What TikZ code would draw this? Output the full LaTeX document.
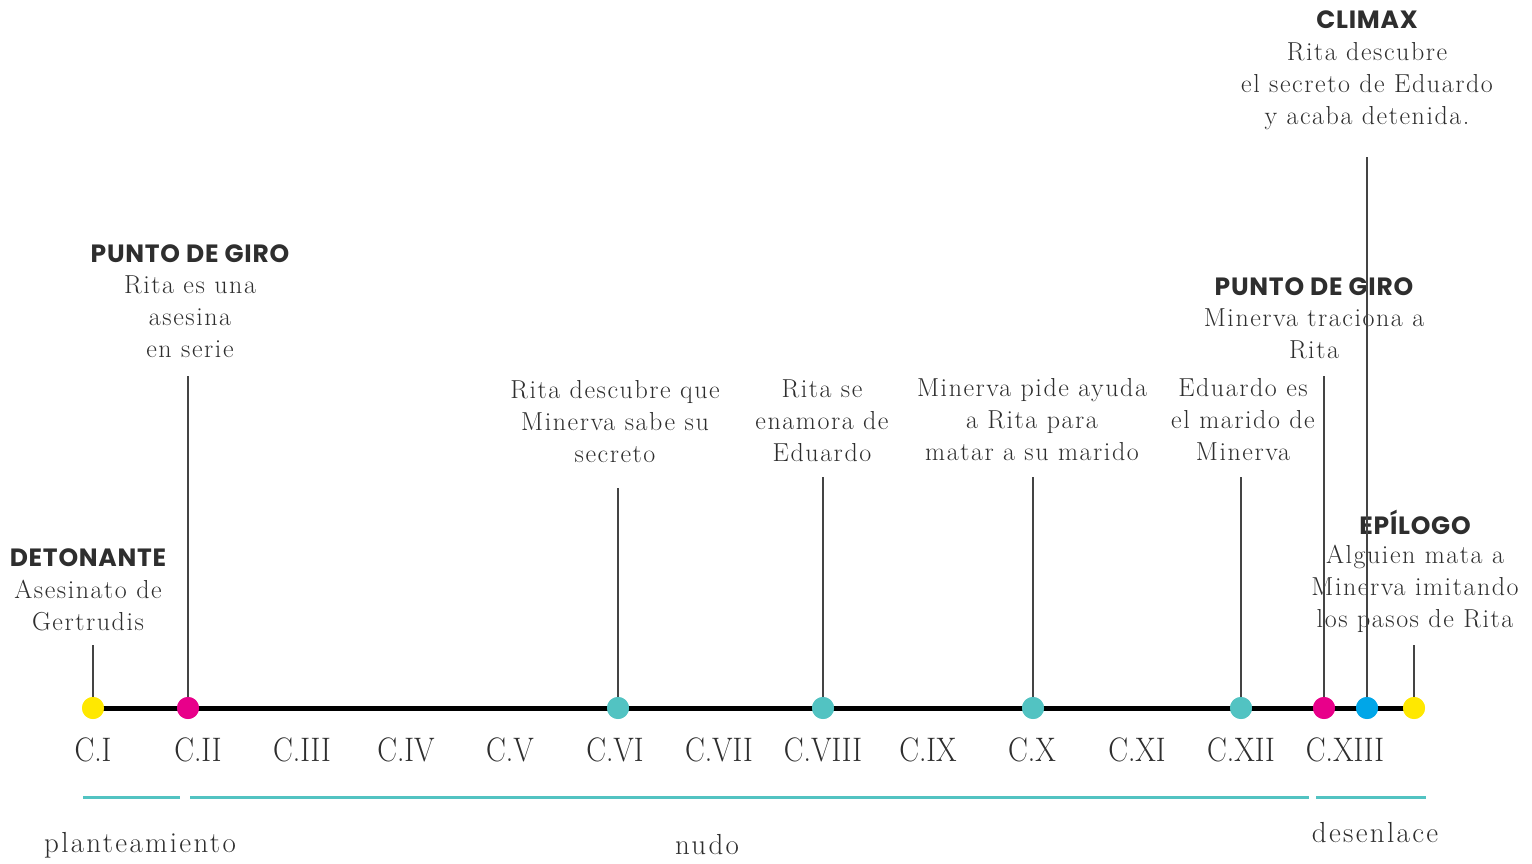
\documentclass[tikz,border=0pt]{standalone}
\usepackage{fontspec}
\usepackage{graphicx}
\newfontfamily\headfont{Poppins}[UprightFont=* Bold, LetterSpace=3]
\newfontfamily\bodyfont{Latin Modern Roman}[LetterSpace=6]
\newfontfamily\partfont{Latin Modern Roman}[LetterSpace=8]
\definecolor{txt}{HTML}{2E2E2E}
\definecolor{yel}{HTML}{FFE800}
\definecolor{mag}{HTML}{E8008A}
\definecolor{tea}{HTML}{52C3C2}
\definecolor{cya}{HTML}{00A6E8}
\definecolor{stem}{HTML}{444444}
\tikzset{
  dot/.style={circle, fill=#1, minimum size=22pt, inner sep=0pt},
  stemline/.style={draw=stem, line width=1.1pt},
  body/.style={text=txt, align=center, font=\bodyfont\fontsize{26}{32}\selectfont, inner sep=0pt, anchor=north},
  head/.style={text=txt, font=\headfont\fontsize{25}{26}\selectfont, inner sep=0pt},
  chap/.style={text=txt, font=\fontsize{34}{34}\selectfont, inner sep=0pt},
  part/.style={text=txt, font=\partfont\fontsize{29}{29}\selectfont, inner sep=0pt},
  bar/.style={draw=tea, line width=3pt}
}
\newcommand{\chp}[1]{\scalebox{0.87}[1]{#1}}
\begin{document}
\begin{tikzpicture}[x=1pt,y=-1pt]
\useasboundingbox (0,0) rectangle (1532,864);
% timeline
\coordinate (tlA) at (93,708);
\coordinate (tlB) at (1414,708);
\draw[line width=5pt] (tlA) -- (tlB);
% stems tops
\coordinate (t1) at (93,645);
\coordinate (t2) at (188,376);
\coordinate (t3) at (618,488);
\coordinate (t4) at (823,477);
\coordinate (t5) at (1033,477);
\coordinate (t6) at (1241,477);
\coordinate (t7) at (1324,376);
\coordinate (t8) at (1367,157);
\coordinate (t9) at (1414,645);
% texts
\node[head] (h1) at (88,558) {DETONANTE};
\node[body] (b1) at (88,580) {Asesinato de\\Gertrudis};
\node[head] (h2) at (190,254) {PUNTO DE GIRO};
\node[body] (b2) at (190,276) {Rita es una\\asesina\\en serie};
\node[body] (b3) at (615,380) {Rita descubre que\\Minerva sabe su\\secreto};
\node[body] (b4) at (822,380) {Rita se\\enamora de\\Eduardo};
\node[body] (b5) at (1032,378) {Minerva pide ayuda\\a Rita para\\matar a su marido};
\node[body] (b6) at (1243,378) {Eduardo es\\el marido de\\Minerva};
\node[head] (h7) at (1314,287) {PUNTO DE GIRO};
\node[body] (b7) at (1314,309) {Minerva traciona a\\Rita};
\node[head] (h8) at (1367,20) {CLIMAX};
\node[body] (b8) at (1367,42) {Rita descubre\\el secreto de Eduardo\\y acaba detenida.};
\node[head] (h9) at (1415,522) {EPÍLOGO};
\node[body] (b9) at (1415,545) {Alguien mata a\\Minerva imitando\\los pasos de Rita};
% dots
\node[dot=yel] (d1) at (93,708) {};
\node[dot=mag] (d2) at (188,708) {};
\node[dot=tea] (d3) at (618,708) {};
\node[dot=tea] (d4) at (823,708) {};
\node[dot=tea] (d5) at (1033,708) {};
\node[dot=tea] (d6) at (1241,708) {};
\node[dot=mag] (d7) at (1324,708) {};
\node[dot=cya] (d8) at (1367,708) {};
\node[dot=yel] (d9) at (1414,708) {};
\foreach \i in {1,...,9} {\draw[stemline] (d\i.center) -- (t\i);}
\foreach \i in {1,...,9} {\node[dot=\ifcase\i\or yel\or mag\or tea\or tea\or tea\or tea\or mag\or cya\or yel\fi] at (d\i) {};}
% chapters
\node[chap] (c1) at (93,750) {\chp{C.I}};
\node[chap] (c2) at (198,750) {\chp{C.II}};
\node[chap] (c3) at (302,750) {\chp{C.III}};
\node[chap] (c4) at (406,750) {\chp{C.IV}};
\node[chap] (c5) at (510,750) {\chp{C.V}};
\node[chap] (c6) at (615,750) {\chp{C.VI}};
\node[chap] (c7) at (719,750) {\chp{C.VII}};
\node[chap] (c8) at (823,750) {\chp{C.VIII}};
\node[chap] (c9) at (928,750) {\chp{C.IX}};
\node[chap] (c10) at (1032,750) {\chp{C.X}};
\node[chap] (c11) at (1137,750) {\chp{C.XI}};
\node[chap] (c12) at (1241,750) {\chp{C.XII}};
\node[chap] (c13) at (1345,750) {\chp{C.XIII}};
% parts
\coordinate (p1a) at (83,797); \coordinate (p1b) at (180,797);
\coordinate (p2a) at (190,797); \coordinate (p2b) at (1309,797);
\coordinate (p3a) at (1316,797); \coordinate (p3b) at (1426,797);
\draw[bar] (p1a) -- (p1b);
\draw[bar] (p2a) -- (p2b);
\draw[bar] (p3a) -- (p3b);
\node[part] (l1) at (140,845) {planteamiento};
\node[part] (l2) at (707,845) {nudo};
\node[part] (l3) at (1375,833) {desenlace};
\end{tikzpicture}
\end{document}
